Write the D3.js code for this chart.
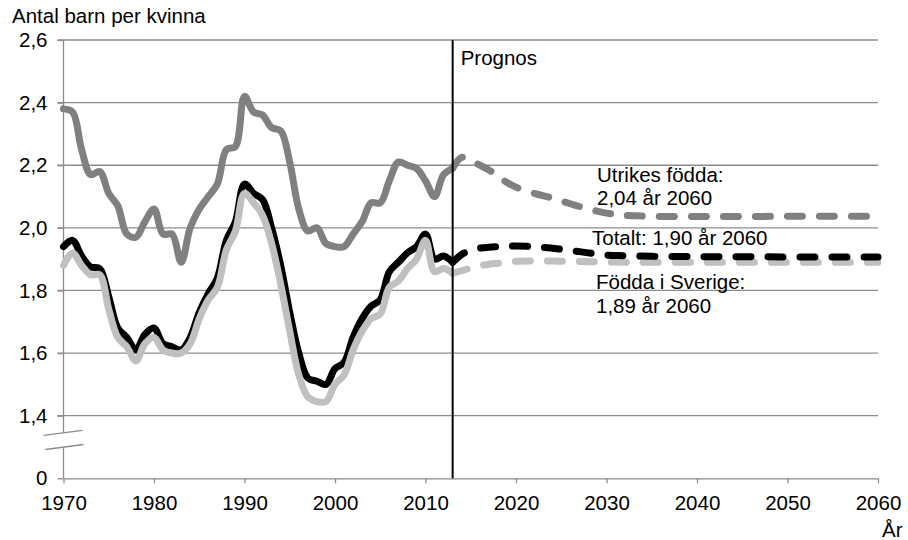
<html>
<head>
<meta charset="utf-8">
<script src="https://d3js.org/d3.v7.min.js"></script>
<style>
body {margin: 0; background: #fff;}
text {font-family: "Liberation Sans", Arial, sans-serif; font-size: 20.5px; fill: #000;}
.grid {stroke: #8c8c8c; stroke-width: 1.3;}
.serie {fill: none; stroke-width: 7; stroke-linejoin: round; stroke-linecap: round;}
</style>
</head>
<body>
<svg width="908" height="540"></svg>
<script>
// historiska år 1970-2013
var years = d3.range(1970, 2014);
var utrikes = [2.38, 2.37, 2.25, 2.17, 2.18, 2.11, 2.07, 1.98, 1.97, 2.02,
               2.06, 1.98, 1.98, 1.89, 2.00, 2.06, 2.10, 2.14, 2.25, 2.26,
               2.42, 2.37, 2.36, 2.32, 2.31, 2.21, 2.06, 1.99, 2.00, 1.95,
               1.94, 1.94, 1.98, 2.02, 2.08, 2.08, 2.15, 2.21, 2.20, 2.19,
               2.15, 2.10, 2.17, 2.19];
var totalt = [1.94, 1.96, 1.91, 1.875, 1.87, 1.78, 1.68, 1.65, 1.61, 1.66,
              1.68, 1.63, 1.62, 1.61, 1.65, 1.73, 1.79, 1.84, 1.96, 2.02,
              2.14, 2.11, 2.09, 2.00, 1.88, 1.73, 1.60, 1.52, 1.51, 1.50,
              1.55, 1.57, 1.65, 1.71, 1.75, 1.77, 1.86, 1.89, 1.92, 1.94,
              1.98, 1.90, 1.91, 1.89];
var sverige = [1.88, 1.92, 1.88, 1.85, 1.85, 1.74, 1.65, 1.62, 1.575, 1.63,
               1.65, 1.61, 1.60, 1.60, 1.63, 1.71, 1.77, 1.81, 1.93, 1.99,
               2.11, 2.08, 2.04, 1.95, 1.82, 1.67, 1.53, 1.46, 1.445, 1.445,
               1.50, 1.53, 1.61, 1.67, 1.71, 1.725, 1.81, 1.83, 1.87, 1.90,
               1.96, 1.86, 1.87, 1.855];

// prognos 2013-2060
var progYears = [2013, 2014, 2015, 2016, 2017, 2018, 2019, 2020, 2022, 2024,
                 2026, 2028, 2030, 2032, 2035, 2040, 2045, 2050, 2055, 2060];
var utrikesProg = [2.19, 2.225, 2.215, 2.20, 2.185, 2.165, 2.145, 2.13, 2.11, 2.095,
                   2.077, 2.06, 2.047, 2.04, 2.037, 2.036, 2.036, 2.037, 2.037, 2.037];
var totaltProg = [1.89, 1.915, 1.928, 1.935, 1.938, 1.94, 1.941, 1.942, 1.94, 1.935,
                  1.928, 1.92, 1.913, 1.911, 1.909, 1.908, 1.908, 1.907, 1.907, 1.907];
var sverigeProg = [1.855, 1.863, 1.872, 1.879, 1.884, 1.887, 1.89, 1.893, 1.894, 1.894,
                   1.893, 1.892, 1.891, 1.89, 1.89, 1.89, 1.89, 1.89, 1.89, 1.89];

var yTicks = [1.2, 1.4, 1.6, 1.8, 2.0, 2.2, 2.4, 2.6];
var xTicks = [1970, 1980, 1990, 2000, 2010, 2020, 2030, 2040, 2050, 2060];
var prognosYear = 2013;

var svg = d3.select("svg");
var x = d3.scaleLinear().domain([1970, 2060]).range([63.5, 878]);
var y = d3.scaleLinear().domain([1.2, 2.6]).range([478.3, 40]);

function fmt(v) {
    if (v === 1.2) return "0";   // axeln är bruten, 0 ligger på 1,2
    return d3.format(".1f")(v).replace(".", ",");
}

// gridlines
svg.append("g").selectAll("line").data(yTicks.slice(1)).enter().append("line")
    .attr("class", "grid")
    .attr("x1", x(1970) - 6).attr("x2", x(2060))
    .attr("y1", function(d) {return y(d);}).attr("y2", function(d) {return y(d);});

// y-axis
var yAxis = svg.append("g")
    .attr("transform", "translate(" + x(1970) + ",0)")
    .call(d3.axisLeft(y).tickValues(yTicks).tickSize(6).tickPadding(10).tickFormat(fmt));
yAxis.select(".domain").remove();
yAxis.selectAll("line").attr("stroke", "#8c8c8c").attr("stroke-width", 1.3);
yAxis.selectAll("text").style("font-size", "20.5px").attr("fill", "#000");

// bruten y-axel
var brTop = y(1.345), brBot = y(1.30);
svg.append("line").attr("class", "grid")
    .attr("x1", x(1970)).attr("x2", x(1970)).attr("y1", y(2.6)).attr("y2", brTop);
svg.append("line").attr("class", "grid")
    .attr("x1", x(1970)).attr("x2", x(1970)).attr("y1", brBot + 1).attr("y2", y(1.2));
[brTop, brBot].forEach(function(b, i) {
    svg.append("line").attr("class", "grid")
        .attr("x1", x(1970) - 20 + i * 2).attr("y1", b + 2.5)
        .attr("x2", x(1970) + 19 + i * 1).attr("y2", b - 2.5);
});

// x-axis
var xAxis = svg.append("g")
    .attr("transform", "translate(0," + y(1.2) + ")")
    .call(d3.axisBottom(x).tickValues(xTicks).tickSize(5).tickSizeOuter(0).tickPadding(12).tickFormat(d3.format("d")));
xAxis.selectAll("line, path").attr("stroke", "#8c8c8c").attr("stroke-width", 1.3);
xAxis.selectAll("text").style("font-size", "20.5px").attr("fill", "#000");

// lines
var line = d3.line()
    .x(function(d) {return x(d[0]);})
    .y(function(d) {return y(d[1]);})
    .curve(d3.curveCatmullRom.alpha(0.5));

function draw(yrs, vals, color, dashed) {
    svg.append("path")
        .datum(d3.zip(yrs, vals))
        .attr("class", "serie")
        .attr("stroke", color)
        .attr("stroke-dasharray", dashed ? "15,17" : null)
        .attr("d", line);
}

draw(years, utrikes, "#808080", false);
draw(progYears, utrikesProg, "#808080", true);
draw(years, totalt, "#000000", false);
draw(years, sverige, "#c0c0c0", false);
draw(progYears, sverigeProg, "#c0c0c0", true);
draw(progYears, totaltProg, "#000000", true);

// prognos-linje
svg.append("line")
    .attr("x1", x(prognosYear)).attr("x2", x(prognosYear))
    .attr("y1", y(2.6)).attr("y2", y(1.2))
    .attr("stroke", "#000").attr("stroke-width", 2);

// texter
svg.append("text").attr("x", 12).attr("y", 23).text("Antal barn per kvinna");
svg.append("text").attr("x", 882).attr("y", 537).text("År");
svg.append("text").attr("x", x(prognosYear) + 8).attr("y", 65).text("Prognos");
svg.append("text").attr("x", 597).attr("y", 182).text("Utrikes födda:");
svg.append("text").attr("x", 597).attr("y", 205).text("2,04 år 2060");
svg.append("text").attr("x", 592).attr("y", 245).text("Totalt: 1,90 år 2060");
svg.append("text").attr("x", 596).attr("y", 289).text("Födda i Sverige:");
svg.append("text").attr("x", 596).attr("y", 313).text("1,89 år 2060");
</script>
</body>
</html>
